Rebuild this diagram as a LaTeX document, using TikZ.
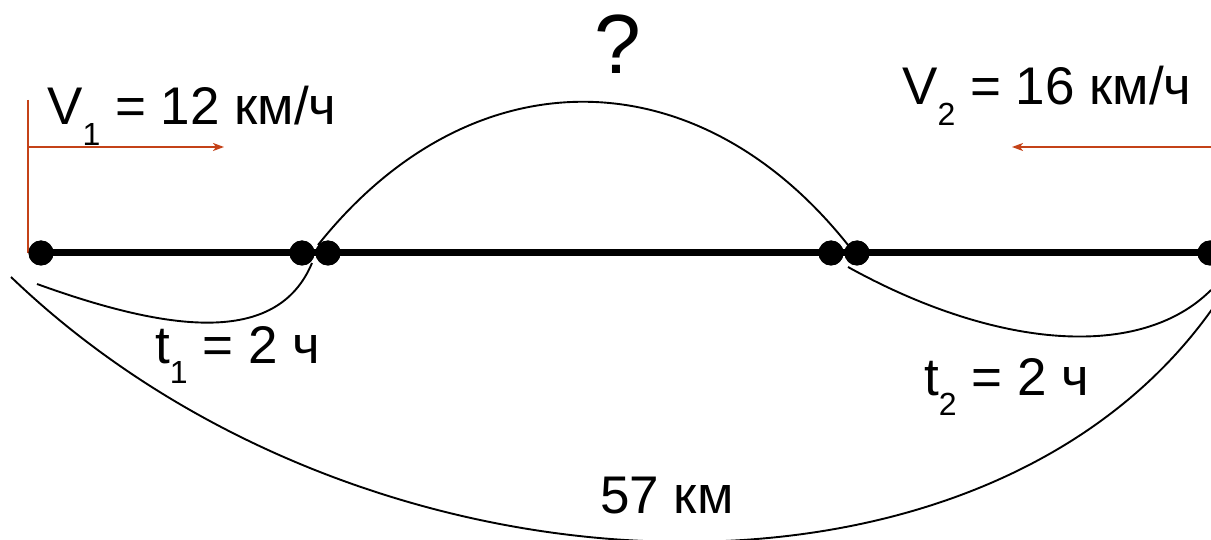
\documentclass[tikz,border=0pt]{standalone}
\usepackage{fontspec}
\setmainfont{Liberation Sans}
\usetikzlibrary{arrows.meta}
\definecolor{vred}{RGB}{196,66,24}
\newcommand{\sub}[1]{\raisebox{-0.38em}{\fontsize{32}{32}\selectfont #1}}
\tikzset{
  dot/.style={circle,fill=black,inner sep=0pt,minimum size=25pt},
  lbl/.style={anchor=base west,inner sep=0pt,font=\fontsize{53}{60}\selectfont},
  arc/.style={line width=1.9pt,black},
  vel/.style={line width=1.7pt,vred},
  veltip/.style={vel,-{Stealth[length=11pt,width=8pt,inset=3pt]}}
}
\begin{document}
\begin{tikzpicture}[x=1pt,y=-1pt]
\useasboundingbox (0,0) rectangle (1211,540);
\clip (0,0) rectangle (1211,540);
% red velocity marks
\coordinate (vt) at (28,100);
\coordinate (vb) at (28,253);
\coordinate (a1s) at (28,147);
\coordinate (a1e) at (224,147);
\coordinate (a2s) at (1212,147);
\coordinate (a2e) at (1012,147);
\draw[vel] (vt) -- (vb);
\draw[veltip] (a1s) -- (a1e);
\draw[veltip] (a2s) -- (a2e);
% main line and dots
\node[dot] (A) at (41,253) {};
\node[dot] (B) at (302,253) {};
\node[dot] (C) at (328,253) {};
\node[dot] (D) at (831,253) {};
\node[dot] (E) at (857,253) {};
\node[dot] (F) at (1210,253) {};
\draw[line width=7pt] (A.center) -- (F.center);
\foreach \n in {A,B,C,D,E,F} \fill (\n) circle (12.5pt);
% arcs
\coordinate (q1) at (318,245);
\coordinate (q2) at (848,245);
\draw[arc] (q1) .. controls (470,54) and (696,54) .. (q2);
\coordinate (s1) at (37,284);
\coordinate (s2) at (312,263);
\draw[arc] (s1) .. controls (167,331) and (277,347) .. (s2);
\coordinate (r1) at (848,267);
\coordinate (r2) at (1211,290);
\draw[arc] (r1) .. controls (998,350) and (1141,360) .. (r2);
\coordinate (g1) at (11,277);
\coordinate (g2) at (1215,305);
\draw[arc] (g1) .. controls (361,613) and (985,637) .. (g2);
% labels
\node[lbl,font=\fontsize{84}{90}\selectfont] (q) at (594,74) {?};
\node[lbl] (v1) at (47,125) {V\sub{1} = 12 км/ч};
\node[lbl] (v2) at (902,105) {V\sub{2} = 16 км/ч};
\node[lbl] (t1) at (155,363) {t\sub{1} = 2 ч};
\node[lbl] (t2) at (924,395) {t\sub{2} = 2 ч};
\node[lbl] (d) at (600,513) {57 км};
\end{tikzpicture}
\end{document}
